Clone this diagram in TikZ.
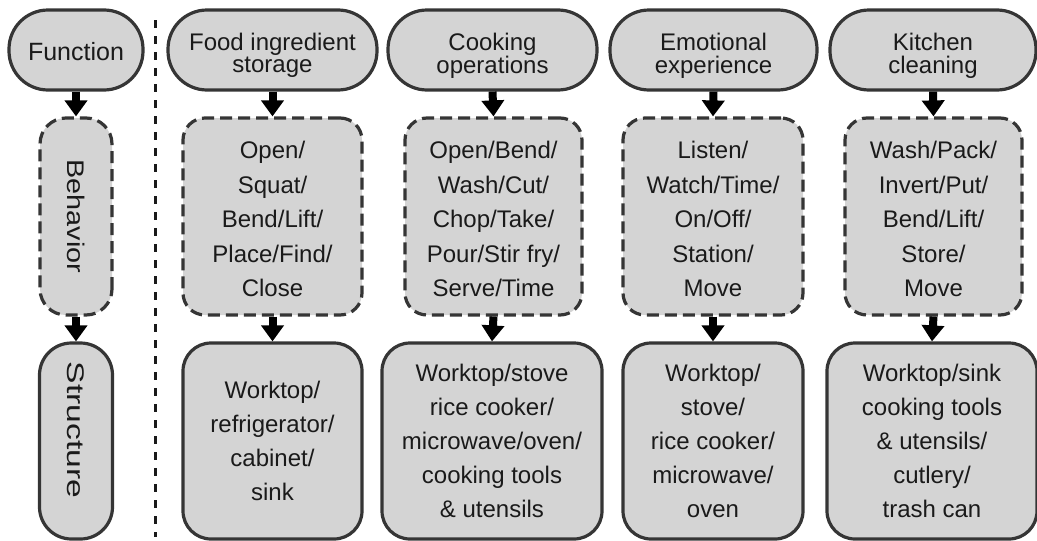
\documentclass[tikz,border=0pt]{standalone}
\usepackage{fontspec}
\usepackage{graphicx}
\setmainfont{Liberation Sans}
\usetikzlibrary{arrows.meta}
\definecolor{fillcol}{HTML}{D4D4D4}
\definecolor{bordercol}{HTML}{353535}
\definecolor{textcol}{HTML}{1A1A1A}
% lines set in a column whose first baseline is raised by #1 above the node centre
\newcommand{\linesat}[2]{\raisebox{#1}[0pt][0pt]{\begin{tabular}[t]{@{}c@{}}#2\end{tabular}}}
\tikzset{
  base/.style={draw=bordercol, fill=fillcol, line width=3.2pt, text=textcol, align=center, inner sep=0pt},
  topbox/.style={base, rounded corners=39pt, minimum height=80pt, font=\fontsize{24}{22}\selectfont},
  behbox/.style={base, dash pattern=on 12pt off 6pt, rounded corners=22pt, minimum height=197pt, font=\fontsize{24}{34.5}\selectfont},
  strbox/.style={base, rounded corners=28pt, minimum height=196pt, font=\fontsize{24}{34}\selectfont},
  flow/.style={line width=8pt, draw=black, -{Triangle[width=22pt,length=16pt]}},
  divider/.style={line width=3pt, draw=black!90, dash pattern=on 8pt off 8pt}
}
\begin{document}
\begin{tikzpicture}[x=1pt,y=-1pt]
\useasboundingbox (0,0) rectangle (1037,541);
% left legend column
\node[topbox, minimum width=134pt, font=\fontsize{25}{25}\selectfont] (fun) at (76,50) {\linesat{-10pt}{Function}};
\node[behbox, rotate=-90, minimum width=197pt, minimum height=72pt, rounded corners=26pt] (beh) at (76,216.5) {\makebox[0pt]{\scalebox{1.2}[1]{Behavior}}};
\node[strbox, rotate=-90, minimum width=196pt, minimum height=73pt, rounded corners=32pt] (str) at (76,441) {\makebox[0pt]{\scalebox{1.4}[1]{Structure}\hspace{22pt}}};
\draw[flow] (fun.south) -- (beh.west);
\draw[flow] (beh.east) -- (str.west);
% divider
\coordinate (d1) at (155,20);
\coordinate (d2) at (155,537);
\draw[divider] (d1) -- (d2);
% column 1
\node[topbox, minimum width=209pt] (f1) at (272.5,50) {\linesat{0pt}{Food ingredient\\storage}};
\node[behbox, minimum width=179pt] (b1) at (272.5,216.5) {\linesat{58pt}{Open/\\Squat/\\Bend/Lift/\\Place/Find/\\Close}};
\node[strbox, minimum width=179pt] (s1) at (272.5,441) {\linesat{42.5pt}{Worktop/\\refrigerator/\\cabinet/\\sink}};
% column 2
\node[topbox, minimum width=209pt] (f2) at (492.5,50) {\linesat{0pt}{Cooking\\operations}};
\node[behbox, minimum width=177pt] (b2) at (493.5,216.5) {\linesat{58pt}{Open/Bend/\\Wash/Cut/\\Chop/Take/\\Pour/Stir fry/\\Serve/Time}};
\node[strbox, minimum width=220pt] (s2) at (492,441) {\linesat{59.5pt}{Worktop/stove\\rice cooker/\\microwave/oven/\\cooking tools\\\& utensils}};
% column 3
\node[topbox, minimum width=207pt] (f3) at (713.5,50) {\linesat{0pt}{Emotional\\experience}};
\node[behbox, minimum width=180pt] (b3) at (713,216.5) {\linesat{58pt}{Listen/\\Watch/Time/\\On/Off/\\Station/\\Move}};
\node[strbox, minimum width=180pt] (s3) at (713,441) {\linesat{59.5pt}{Worktop/\\stove/\\rice cooker/\\microwave/\\oven}};
% column 4
\node[topbox, minimum width=206pt] (f4) at (933,50) {\linesat{0pt}{Kitchen\\cleaning}};
\node[behbox, minimum width=177pt] (b4) at (933.5,216.5) {\linesat{58pt}{Wash/Pack/\\Invert/Put/\\Bend/Lift/\\Store/\\Move}};
\node[strbox, minimum width=210pt] (s4) at (932,441) {\linesat{59.5pt}{Worktop/sink\\cooking tools\\\& utensils/\\cutlery/\\trash can}};
% arrows
\foreach \i in {1,2,3,4}{
  \draw[flow] (f\i.south) -- (b\i.north);
  \draw[flow] (b\i.south) -- (s\i.north);
}
\end{tikzpicture}
\end{document}
